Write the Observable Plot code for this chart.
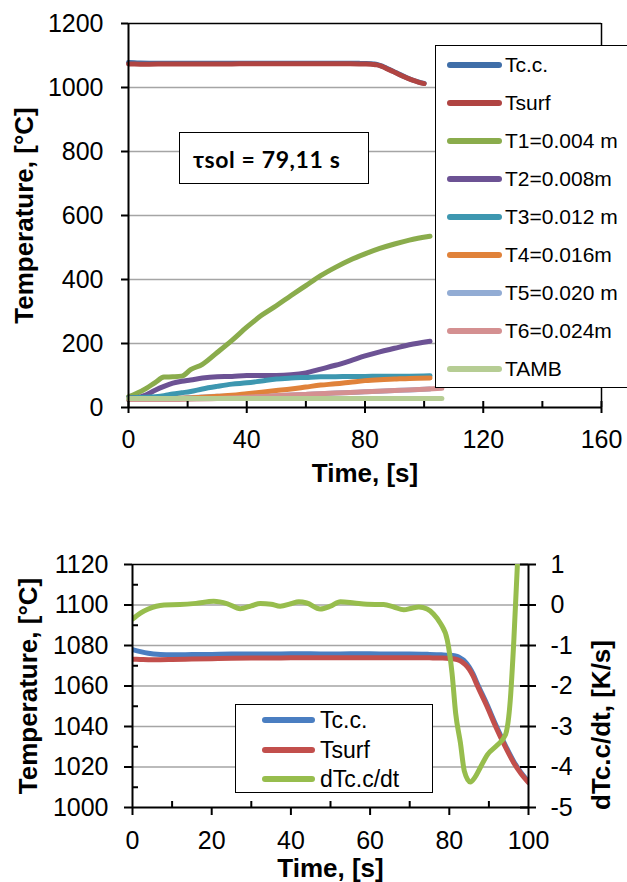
<!DOCTYPE html>
<html><head><meta charset="utf-8">
<script src="https://cdn.jsdelivr.net/npm/d3@7"></script>
<script src="https://cdn.jsdelivr.net/npm/@observablehq/plot@0.6"></script>
<style>
html,body{margin:0;padding:0;background:#fff}
body{position:relative;width:627px;height:882px;overflow:hidden;font-family:"Liberation Sans",Arial,sans-serif;color:#000}
.abs{position:absolute}
.box{position:absolute;background:#fff;border:1.5px solid #000;box-sizing:border-box}
.sw{position:absolute;height:6px;border-radius:3px}
.lt{position:absolute;white-space:nowrap}
</style></head><body>
<div id="top" class="abs" style="left:0;top:0"></div>
<div id="bot" class="abs" style="left:0;top:500px"></div>
<div id="note" class="box" style="left:179px;top:132px;width:190px;height:52px"></div>
<div id="leg1" class="box" style="left:435px;top:45px;width:220px;height:343px"></div>
<div id="leg2" class="box" style="left:235px;top:704px;width:198px;height:89px"></div>
<script>
// ---------- data ----------
const seriesTop = ["Tc.c.","Tsurf","T1=0.004 m","T2=0.008m","T3=0.012 m","T4=0.016m","T5=0.020 m","T6=0.024m","TAMB"];
const colorsTop = ["#3f6ea8","#b04442","#8aac4c","#6c5294","#3d97b0","#e0823a","#92acd4","#d49091","#b6cd94"];
const seriesBot = ["Tc.c.","Tsurf","dTc.c/dt"];
const colorsBot = ["#4a7ec1","#c24f4c","#97bd4d"];

const tBot = [0,2,4,7,10,15,20,25,30,35,40,45,50,55,60,65,70,75,78,80,82,83,84,85,86,87,89.5,91.7,94,96.3,98,100];
const tcc = [1078,1077,1076.2,1075.6,1075.4,1075.5,1075.6,1075.8,1075.8,1075.8,1075.9,1075.9,1075.8,1075.9,1075.9,1075.8,1075.8,1075.6,1075.4,1075.2,1074.6,1073.5,1072,1069.5,1066,1061.5,1051,1041,1031.3,1022.6,1017.6,1012.8];
const tsurf = [1073.2,1073.1,1073,1073,1073.1,1073.3,1073.5,1073.7,1073.8,1073.8,1073.9,1073.9,1074,1074,1074,1074,1074,1073.9,1073.8,1073.6,1073,1072.2,1070.6,1068.4,1065,1060.5,1050,1040,1030.5,1022,1017,1012.3];

const tD = [0,2,4,6,8,12,16,20.5,24,27.2,30,32.3,35,37.3,40,42,44,47.4,50,52.5,56,59.2,63.4,66,68.5,70.5,72.3,74.4,76,77.8,79.5,80.7,81.6,82.8,83.8,85.3,86.5,87.9,89.6,92.1,94.2,95.4,96.3,97.2];
const dTdt = [-0.35,-0.2,-0.1,-0.03,0,0.01,0.04,0.09,0.03,-0.09,-0.02,0.04,0.02,-0.03,0.03,0.08,0.05,-0.1,-0.03,0.08,0.05,0.02,0.01,-0.05,-0.12,-0.08,-0.05,-0.1,-0.22,-0.46,-0.87,-1.69,-2.67,-3.4,-4.1,-4.37,-4.25,-4.0,-3.7,-3.46,-3.2,-2.35,-0.87,1.0];

const tTop = [0,3,6,9,12,15,18,21,25,30,35,40,45,50,55,60,65,70,75,80,85,90,95,102];
const T1 = [33,45,60,78,95,96,98,118,135,172,210,251,288,318,350,381,412,438,461,480,497,511,523,535];
const T2 = [30,31,40,54,66,76,82,86,92,96,97,100,100,100,102,108,120,132,146,161,174,185,196,207];
const T3 = [30,31,32,34,37,42,46,50,58,66,73,77,83,89,92,94,96,96,97,97,98,98,98,99];
const T4 = [26,27,27,28,28,28,29,30,32,35,38,43,48,53,58,64,70,74,79,84,87,89,91,92];
const T5 = [25,25,26,26,27,28,29,31,33,35,36,36,36,37,39,41,43,45,47,49,51,53,55,58];
const tLow = [0,10,20,30,40,50,60,70,80,90,100,106];
const T6 = [25,25,26,28,32,37,41,45,49,53,57,60];
const TAMB = [28,28,28,28,28,28,28,28,28,28,28,28];

const xTicksTop = [0,40,80,120,160];
const xMinorTop = [0,20,40,60,80,100,120,140,160];
const yTicksTop = [0,200,400,600,800,1000,1200];
const gridTop = [200,400,600,800,1000];

const xTicksBot = [0,20,40,60,80,100];
const xMinorBot = [10,30,50,70,90];
const yTicksBot = [1000,1020,1040,1060,1080,1100,1120];
const yMinorBot = [1010,1030,1050,1070,1090,1110];
const gridBot = [1020,1040,1060,1080,1100];
const dTicks = [-5,-4,-3,-2,-1,0,1];

const noteText = "τsol = 79,11 s";
const titleTemp = "Temperature, [°C]";
const titleTime = "Time, [s]";
const titleDer = "dTc.c/dt, [K/s]";

// ---------- helpers ----------
const FONT = "Liberation Sans, Arial, sans-serif";
const rows = (t, v, s) => t.map((x, i) => ({t: x, v: v[i], s}));
const toLeft = d => 1100 + 20 * d; // secondary axis mapping: -5..1 -> 1000..1120

// ---------- top chart ----------
const topData = [
  ...rows(tBot, tcc, seriesTop[0]), ...rows(tBot, tsurf, seriesTop[1]),
  ...rows(tTop, T1, seriesTop[2]), ...rows(tTop, T2, seriesTop[3]),
  ...rows(tTop, T3, seriesTop[4]), ...rows(tTop, T5, seriesTop[6]),
  ...rows(tTop, T4, seriesTop[5]), ...rows(tLow, T6, seriesTop[7]),
  ...rows(tLow, TAMB, seriesTop[8])
];
const axisStyle = {stroke: "#000", strokeWidth: 2};
const topPlot = Plot.plot({
  width: 627, height: 500, marginLeft: 128, marginRight: 26, marginTop: 23, marginBottom: 93,
  style: {fontFamily: FONT, fontSize: "25px", color: "#000", background: "transparent", overflow: "visible"},
  x: {domain: [0, 160], axis: null}, y: {domain: [0, 1200], axis: null},
  color: {domain: seriesTop, range: colorsTop},
  marks: [
    Plot.ruleY(gridTop, {stroke: "#a5a5a5", strokeWidth: 1.5}),
    Plot.ruleY([1200], {stroke: "#000", strokeWidth: 1.5}),
    Plot.ruleX([160], {stroke: "#000", strokeWidth: 1.5}),
    Plot.line(topData, {x: "t", y: "v", z: "s", stroke: "s", strokeWidth: 5, curve: "monotone-x", strokeLinecap: "round"}),
    Plot.ruleX([0], axisStyle),
    Plot.ruleY([0], axisStyle),
    Plot.ruleX(xMinorTop, {x: d => d, y1: 0, y2: 0, insetTop: -6, insetBottom: 0, ...axisStyle}),
    Plot.ruleX(xTicksTop, {x: d => d, y1: 0, y2: 0, insetTop: 0, insetBottom: -6, ...axisStyle}),
    Plot.ruleY(yTicksTop, {y: d => d, x1: 0, x2: 0, insetLeft: -7, insetRight: 0, ...axisStyle}),
    Plot.text(yTicksTop, {frameAnchor: "left", y: d => d, text: d => String(d), textAnchor: "end", lineAnchor: "middle", dx: -25}),
    Plot.text(xTicksTop, {frameAnchor: "bottom", x: d => d, text: d => String(d), textAnchor: "middle", lineAnchor: "top", dy: 22.5}),
    Plot.text([titleTemp], {frameAnchor: "left", rotate: -90, textAnchor: "middle", lineAnchor: "middle", dx: -104, fontWeight: "bold", fontSize: 26}),
    Plot.text([titleTime], {frameAnchor: "bottom", textAnchor: "middle", lineAnchor: "middle", dy: 66, fontWeight: "bold", fontSize: 26})
  ]
});
document.getElementById("top").append(topPlot);

// ---------- bottom chart ----------
const botData = [
  ...rows(tBot, tcc, seriesBot[0]), ...rows(tBot, tsurf, seriesBot[1]),
  ...rows(tD, dTdt.map(toLeft), seriesBot[2])
];
const botPlot = Plot.plot({
  width: 627, height: 382, marginLeft: 132, marginRight: 99, marginTop: 64, marginBottom: 75,
  style: {fontFamily: FONT, fontSize: "25px", color: "#000", background: "transparent", overflow: "visible"},
  x: {domain: [0, 100], axis: null}, y: {domain: [1000, 1120], axis: null},
  color: {domain: seriesBot, range: colorsBot},
  marks: [
    Plot.ruleY(gridBot, {stroke: "#a5a5a5", strokeWidth: 1.5}),
    Plot.ruleY([1120], {stroke: "#000", strokeWidth: 1.5}),
    Plot.line(botData, {x: "t", y: "v", z: "s", stroke: "s", strokeWidth: 5, curve: "monotone-x", strokeLinecap: "round", clip: true}),
    Plot.ruleX([0], axisStyle),
    Plot.ruleX([100], axisStyle),
    Plot.ruleY([1000], axisStyle),
    Plot.ruleX(xTicksBot, {x: d => d, y1: 1000, y2: 1000, insetTop: 0, insetBottom: -8, ...axisStyle}),
    Plot.ruleX(xMinorBot, {x: d => d, y1: 1000, y2: 1000, insetTop: -6, insetBottom: 0, ...axisStyle}),
    Plot.ruleY(yTicksBot, {y: d => d, x1: 0, x2: 0, insetLeft: -8, insetRight: 0, ...axisStyle}),
    Plot.ruleY(yMinorBot, {y: d => d, x1: 0, x2: 0, insetLeft: 0, insetRight: -6, ...axisStyle}),
    Plot.ruleY(dTicks.map(toLeft), {y: d => d, x1: 100, x2: 100, insetLeft: -8, insetRight: -8, ...axisStyle}),
    Plot.text(yTicksBot, {frameAnchor: "left", y: d => d, text: d => String(d), textAnchor: "end", lineAnchor: "middle", dx: -24}),
    Plot.text(dTicks, {frameAnchor: "right", y: d => toLeft(d), text: d => String(d), textAnchor: "start", lineAnchor: "middle", dx: 22}),
    Plot.text(xTicksBot, {frameAnchor: "bottom", x: d => d, text: d => String(d), textAnchor: "middle", lineAnchor: "top", dy: 24}),
    Plot.text([titleTemp], {frameAnchor: "left", rotate: -90, textAnchor: "middle", lineAnchor: "middle", dx: -104, fontWeight: "bold", fontSize: 26}),
    Plot.text([titleDer], {frameAnchor: "right", rotate: -90, textAnchor: "middle", lineAnchor: "middle", dx: 73, dy: 39, fontWeight: "bold", fontSize: 26}),
    Plot.text([titleTime], {frameAnchor: "bottom", textAnchor: "middle", lineAnchor: "middle", dy: 61, fontWeight: "bold", fontSize: 26})
  ]
});
document.getElementById("bot").append(botPlot);

// ---------- annotation ----------
const note = document.getElementById("note");
const ns = document.createElement("span");
ns.textContent = noteText;
ns.style.cssText = "position:absolute;left:13px;top:12px;font:bold 23px Lato, 'Open Sans', sans-serif;letter-spacing:0.6px;white-space:nowrap;line-height:28px";
note.append(ns);

// ---------- legends ----------
function legend(names, colors, x0, x1, tx, y0, step, fs) {
  names.forEach((n, i) => {
    const y = y0 + i * step;
    const sw = document.createElement("div");
    sw.className = "sw";
    sw.style.cssText += `left:${x0}px;width:${x1 - x0}px;top:${y - 3}px;background:${colors[i]}`;
    document.body.append(sw);
    const tx_ = document.createElement("div");
    tx_.className = "lt";
    tx_.textContent = n;
    tx_.style.cssText += `left:${tx}px;top:${y - 14}px;line-height:28px;font-size:${fs}px`;
    document.body.append(tx_);
  });
}
legend(seriesTop, colorsTop, 447, 502, 505, 65, 38.05, 21);
legend(seriesBot, colorsBot, 262, 315, 320, 720, 29.6, 23);
</script>
</body></html>
